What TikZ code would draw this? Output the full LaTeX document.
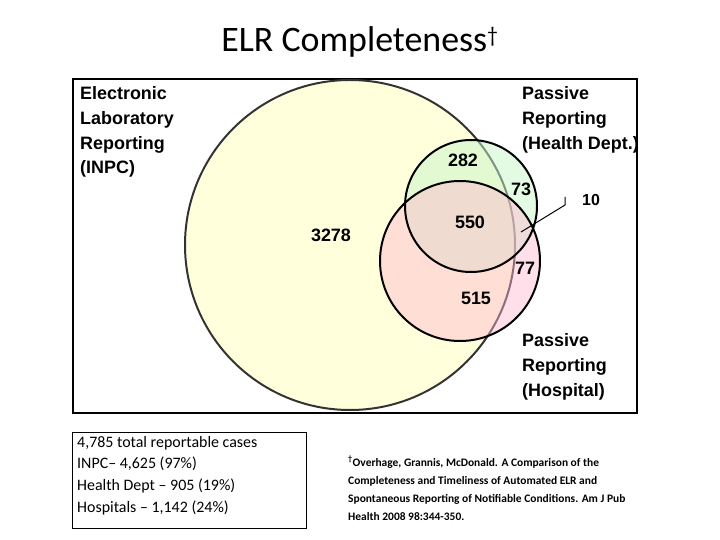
\documentclass[tikz,border=0pt]{standalone}
\usepackage{fontspec}
\setmainfont{Carlito}
\newfontfamily\arialf{Liberation Sans}
\definecolor{yel}{HTML}{FFFFDC}
\definecolor{grn}{HTML}{C8F5C8}
\definecolor{pnk}{HTML}{FFB8D0}
\begin{document}
\begin{tikzpicture}[x=1bp,y=-1bp,
  lbl/.style={font=\arialf\bfseries\fontsize{18}{25}\selectfont,align=left,anchor=north west,inner sep=0pt},
  num/.style={font=\arialf\bfseries\fontsize{18}{18}\selectfont,inner sep=0pt}]
\useasboundingbox (0,0) rectangle (720,540);
\node (title) at (360,42) {\fontsize{36}{40}\selectfont ELR Completeness\textsuperscript{\fontsize{22}{22}\selectfont †}};
\node[draw,line width=1.6pt,minimum width=564bp,minimum height=334bp,anchor=north west,inner sep=0pt] (frame) at (72,78) {};
\fill[yel] (350,245) ellipse [x radius=165, y radius=165];
\draw[line width=2pt,black!80] (350,245) ellipse [x radius=165, y radius=165];
\fill[grn,fill opacity=0.5] (471,206) circle (66);
\fill[pnk,fill opacity=0.45] (460,261) circle (80);
\draw[line width=2pt] (471,206) circle (66);
\draw[line width=2pt] (460,261) circle (80);
\node[lbl] (elr) at (80,86) {Electronic\\Laboratory\\Reporting\\(INPC)};
\node[lbl] (phd) at (522,86) {Passive\\Reporting\\(Health Dept.)};
\node[lbl] (phosp) at (522,333) {Passive\\Reporting\\(Hospital)};
\node[num] (n3278) at (331,235) {3278};
\node[num] (n282) at (463,160) {282};
\node[num] (n73) at (521,189) {73};
\node[num] (n550) at (470,222) {550};
\node[num] (n77) at (525,268) {77};
\node[num] (n515) at (476,298) {515};
\node[num,font=\arialf\bfseries\fontsize{16}{18}\selectfont] (n10) at (591,200) {10};
\coordinate (p10) at (521,232);
\coordinate (k10) at (565,205);
\coordinate (t10) at (565,197);
\draw[line width=1pt] (p10) -- (k10) -- (t10);
\node[draw,line width=1pt,anchor=north west,minimum width=234bp,minimum height=96bp,inner sep=0pt] (stats) at (72,432) {};
\node[anchor=north west,align=left,inner sep=0pt,font=\fontsize{16}{21.7}\selectfont] (statst) at (77,436) {4,785 total reportable cases\\INPC-- 4,625 (97\%)\\Health Dept -- 905 (19\%)\\Hospitals -- 1,142 (24\%)};
\node[anchor=north west,align=left,inner sep=0pt,font=\bfseries\fontsize{11.5}{18}\selectfont] (cite) at (348,456) {\textsuperscript{†}Overhage, Grannis, McDonald. A Comparison of the\\Completeness and Timeliness of Automated ELR and\\Spontaneous Reporting of Notifiable Conditions. Am J Pub\\Health 2008 98:344-350.};
\end{tikzpicture}
\end{document}
